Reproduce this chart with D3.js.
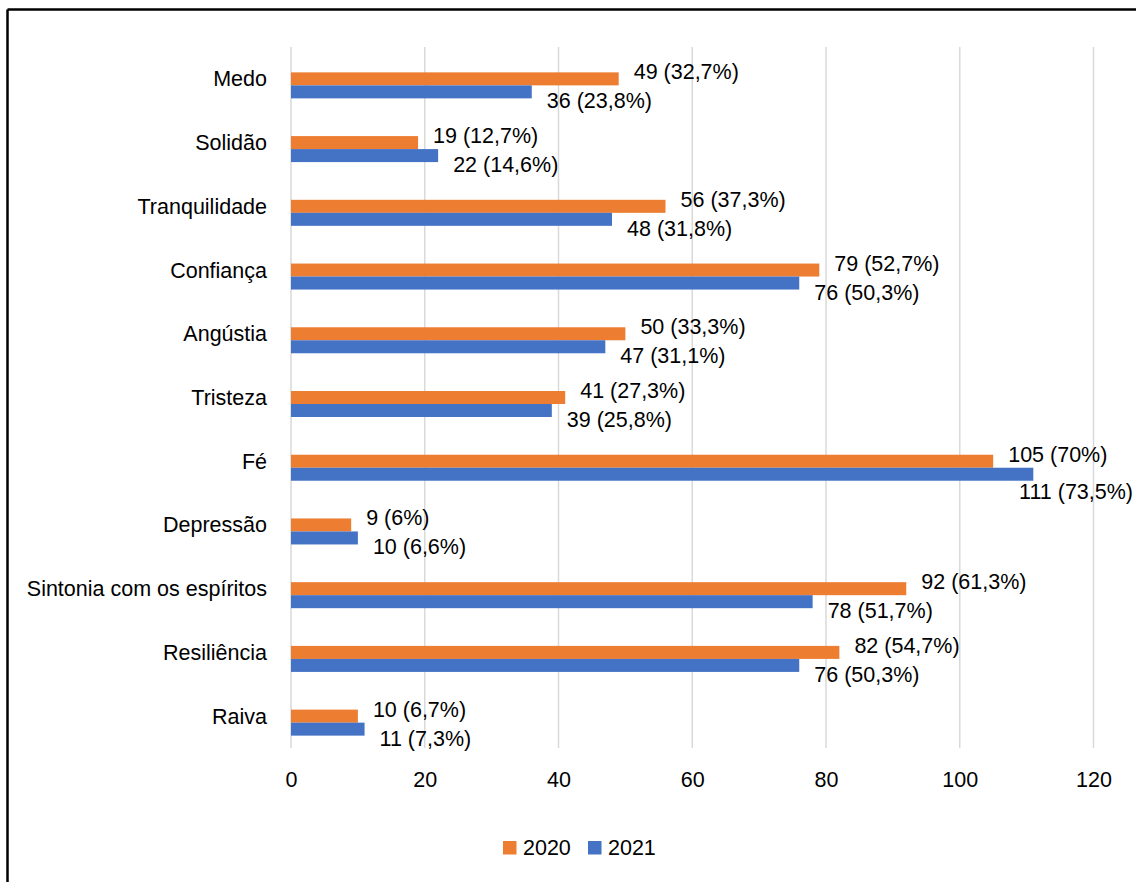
<!DOCTYPE html>
<html>
<head>
<meta charset="utf-8">
<script src="https://cdn.jsdelivr.net/npm/d3@7"></script>
<style>
  html, body { margin: 0; padding: 0; background: #fff; }
  svg { display: block; }
  text { font-family: "Liberation Sans", Arial, sans-serif; }
</style>
</head>
<body>
<svg id="chart" width="1136" height="882"></svg>
<script>
const categories = ["Medo", "Solidão", "Tranquilidade", "Confiança", "Angústia", "Tristeza", "Fé", "Depressão", "Sintonia com os espíritos", "Resiliência", "Raiva"];
const seriesNames = ["2020", "2021"];
const values2020 = [49, 19, 56, 79, 50, 41, 105, 9, 92, 82, 10];
const values2021 = [36, 22, 48, 76, 47, 39, 111, 10, 78, 76, 11];
const pct2020 = ["32,7%", "12,7%", "37,3%", "52,7%", "33,3%", "27,3%", "70%", "6%", "61,3%", "54,7%", "6,7%"];
const pct2021 = ["23,8%", "14,6%", "31,8%", "50,3%", "31,1%", "25,8%", "73,5%", "6,6%", "51,7%", "50,3%", "7,3%"];
const xTicks = [0, 20, 40, 60, 80, 100, 120];

const W = 1136, H = 882;
const colors = {"2020": "#ED7D31", "2021": "#4472C4"};
const fontSize = 21.5;
const svg = d3.select("#chart");

// frame (only top and left edges visible)
svg.append("line").attr("x1", 7.5).attr("y1", 9.5).attr("x2", W + 5).attr("y2", 9.5)
  .attr("stroke", "#000").attr("stroke-width", 2.5);
svg.append("line").attr("x1", 7.5).attr("y1", 9.5).attr("x2", 7.5).attr("y2", H + 5)
  .attr("stroke", "#000").attr("stroke-width", 2.5);

const plotTop = 47, plotBottom = 748;
const x = d3.scaleLinear().domain([0, 120]).range([291, 1093.5]);
const y = d3.scaleBand().domain(categories).range([plotTop, plotBottom]);
// three bar slots per category (first slot is empty), each slot 13px
const barH = 13;
const slots = d3.scaleBand().domain(["", ...seriesNames]).range([-1.5 * barH, 1.5 * barH]);

// gridlines
svg.append("g").selectAll("line").data(xTicks).join("line")
  .attr("x1", d => x(d)).attr("x2", d => x(d))
  .attr("y1", plotTop).attr("y2", plotBottom)
  .attr("stroke", "#d9d9d9").attr("stroke-width", 1.5);

// x axis tick labels
const xAxis = d3.axisBottom(x).tickValues(xTicks).tickSize(0).tickPadding(0);
const gx = svg.append("g").attr("transform", `translate(0, ${plotBottom})`).call(xAxis);
gx.select(".domain").remove();
gx.selectAll("text").attr("font-size", fontSize).attr("fill", "#000")
  .attr("font-family", "Liberation Sans, Arial, sans-serif")
  .attr("dy", null).attr("y", 39);

// category labels
const yAxis = d3.axisLeft(y).tickSize(0).tickPadding(0);
const gy = svg.append("g").attr("transform", "translate(267, 0)").call(yAxis);
gy.select(".domain").remove();
gy.selectAll("text").attr("font-size", fontSize).attr("fill", "#000")
  .attr("font-family", "Liberation Sans, Arial, sans-serif")
  .attr("dy", null).attr("y", 0.35 * fontSize).attr("x", 0);

const data = [];
categories.forEach((c, i) => {
  data.push({cat: c, s: "2020", v: values2020[i], label: `${values2020[i]} (${pct2020[i]})`});
  data.push({cat: c, s: "2021", v: values2021[i], label: `${values2021[i]} (${pct2021[i]})`});
});

const center = c => y(c) + y.bandwidth() / 2;

// bars
svg.append("g").selectAll("rect").data(data).join("rect")
  .attr("x", x(0))
  .attr("y", d => center(d.cat) + slots(d.s))
  .attr("width", d => x(d.v) - x(0))
  .attr("height", slots.bandwidth())
  .attr("fill", d => colors[d.s]);

// data labels
const lbl = svg.append("g").selectAll("text").data(data).join("text")
  .attr("font-size", fontSize).attr("fill", "#000")
  .text(d => d.label)
  .attr("x", d => x(d.v) + 15)
  .attr("y", d => center(d.cat) + slots(d.s) + slots.bandwidth() / 2 + (d.s === "2020" ? -7 : 9) + 0.35 * fontSize);
lbl.each(function() {
  const w = this.getComputedTextLength();
  const xx = +this.getAttribute("x");
  if (xx + w > W - 3) {
    // not enough room on the right: slide left and drop below the bar
    this.setAttribute("x", W - 3 - w);
    this.setAttribute("y", +this.getAttribute("y") + 8);
  }
});

// legend
const lg = svg.append("g");
const legendItems = [{s: "2020", x: 503}, {s: "2021", x: 588}];
lg.selectAll("rect").data(legendItems).join("rect")
  .attr("x", d => d.x).attr("y", 841).attr("width", 13.5).attr("height", 13.5)
  .attr("fill", d => colors[d.s]);
lg.selectAll("text").data(legendItems).join("text")
  .attr("x", d => d.x + 20).attr("y", 847.5 + 0.35 * fontSize)
  .attr("font-size", fontSize).attr("fill", "#000")
  .text(d => d.s);
</script>
</body>
</html>
